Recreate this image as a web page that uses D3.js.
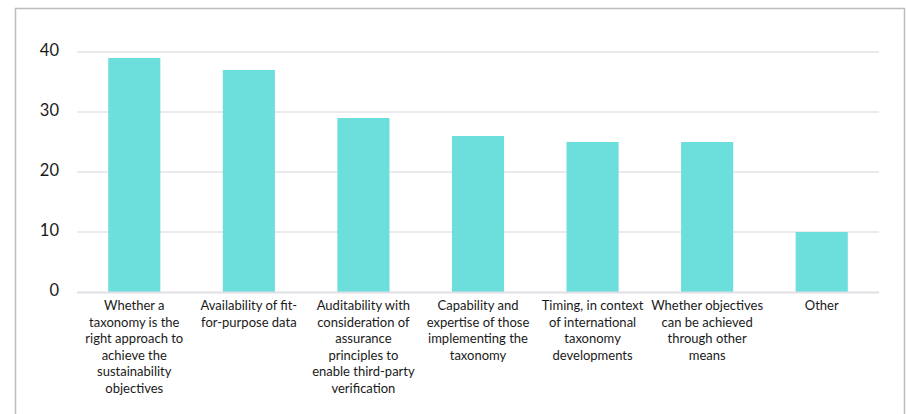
<!DOCTYPE html>
<html>
<head>
<meta charset="utf-8">
<script src="https://cdn.jsdelivr.net/npm/d3@7"></script>
<style>
  html, body { margin: 0; padding: 0; background: #fff; }
  svg { display: block; }
</style>
</head>
<body>
<svg id="chart" width="906" height="414"></svg>
<script>
const categories = [
  ["Whether a", "taxonomy is the", "right approach to", "achieve the", "sustainability", "objectives"],
  ["Availability of fit-", "for-purpose data"],
  ["Auditability with", "consideration of", "assurance", "principles to", "enable third-party", "verification"],
  ["Capability and", "expertise of those", "implementing the", "taxonomy"],
  ["Timing, in context", "of international", "taxonomy", "developments"],
  ["Whether objectives", "can be achieved", "through other", "means"],
  ["Other"]
];
const values = [39, 37, 29, 26, 25, 25, 10];
const yTicks = [0, 10, 20, 30, 40];

(function () {
const W = 906, H = 414;
const svg = d3.select("#chart");
const font = "Lato, 'Open Sans', sans-serif";

// frame
svg.append("path")
  .attr("d", `M15.5,${H} V8.5 H904.5 V${H}`)
  .attr("fill", "none").attr("stroke", "#bdbdbd").attr("stroke-width", 1.5);

const mLeft = 77, mRight = 879, mTop = 52, mBottom = 292;
const x = d3.scaleBand().domain(d3.range(values.length)).range([mLeft, mRight]).paddingInner(0.545).paddingOuter(0.2725);
const y = d3.scaleLinear().domain([0, 40]).range([mBottom, mTop]);

// gridlines
svg.append("g").selectAll("line").data(yTicks.filter(d => d > 0)).join("line")
  .attr("x1", mLeft).attr("x2", mRight)
  .attr("y1", d => y(d)).attr("y2", d => y(d))
  .attr("stroke", "#e3e3ea").attr("stroke-width", 1.5);

// y axis labels
const yAxis = d3.axisLeft(y).tickValues(yTicks).tickSize(0).tickPadding(0);
const ya = svg.append("g").attr("transform", `translate(59,-1.5)`).call(yAxis);
ya.select(".domain").remove();
ya.selectAll("text").attr("font-family", font).attr("font-size", 16.5).attr("fill", "#1a1a1a");

// bars
svg.append("g").selectAll("rect").data(values).join("rect")
  .attr("x", (d, i) => x(i)).attr("width", x.bandwidth())
  .attr("y", d => y(d)).attr("height", d => y(0) - y(d))
  .attr("fill", "#6cdfdc");

// baseline
svg.append("line").attr("x1", mLeft).attr("x2", mRight)
  .attr("y1", y(0) + 0.5).attr("y2", y(0) + 0.5)
  .attr("stroke", "#e0e0e6").attr("stroke-width", 2);

// x labels
const xl = svg.append("g").selectAll("text").data(categories).join("text")
  .attr("x", (d, i) => x(i) + x.bandwidth() / 2)
  .attr("y", 310)
  .attr("text-anchor", "middle")
  .attr("font-family", font).attr("font-size", 13).attr("fill", "#1a1a1a");
xl.each(function(lines) {
  d3.select(this).selectAll("tspan").data(lines).join("tspan")
    .attr("x", d3.select(this).attr("x"))
    .attr("dy", (d, i) => i === 0 ? 0 : 16.6)
    .text(d => d);
});
})();
</script>
</body>
</html>
